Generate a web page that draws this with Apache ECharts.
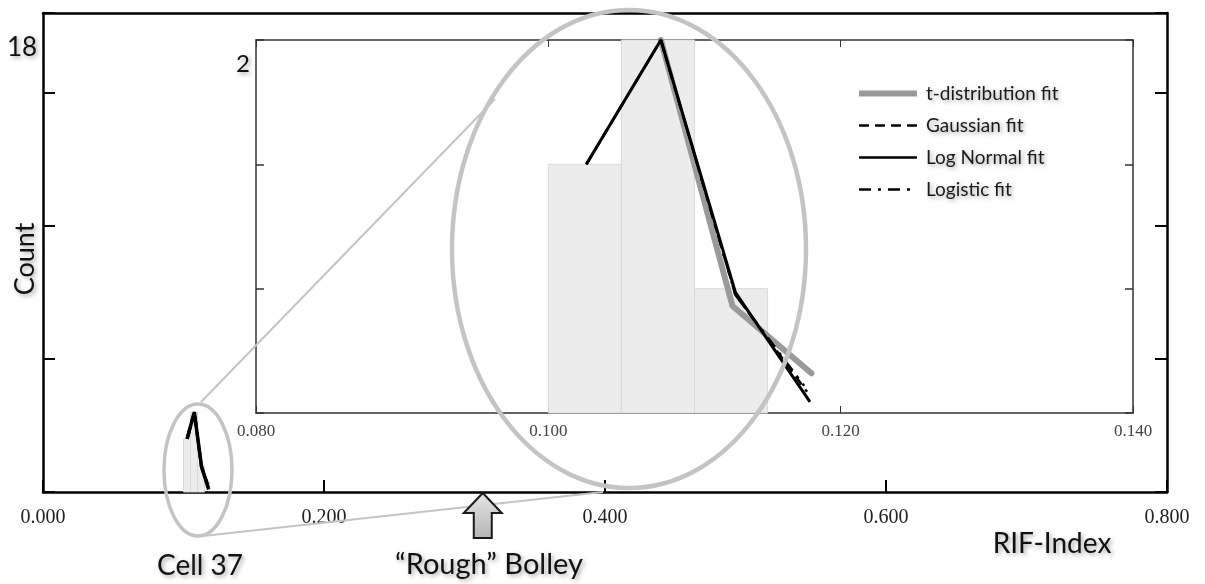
<!DOCTYPE html>
<html>
<head>
<meta charset="utf-8">
<script src="https://cdn.jsdelivr.net/npm/echarts@6/dist/echarts.min.js"></script>
<style>
  html, body { margin: 0; padding: 0; background: #fff; }
  #chart { width: 1205px; height: 584px; }
</style>
</head>
<body>
<div id="chart"></div>
<script>
// Histogram of RIF-Index values: bin starts, bin width and counts
const binStarts = [0.100, 0.105, 0.110];
const binWidth = 0.005;
const counts = [2, 3, 1];

// Fitted distributions, as [RIF-Index, count] points
const tDistFit = [[0.1077, 3], [0.1126, 0.86], [0.1180, 0.32]];
const gaussianFit = [[0.1026, 2], [0.1077, 3], [0.1128, 0.95], [0.1177, 0.17]];
const logNormalFit = [[0.1026, 2], [0.1077, 3], [0.1128, 0.97], [0.1179, 0.09]];
const logisticFit = [[0.1026, 2], [0.1077, 3], [0.1128, 0.95], [0.1175, 0.22]];

// Tick labels of the full-range axis and of the zoomed inset
const mainXTicks = ['0.000', '0.200', '0.400', '0.600', '0.800'];
const insetXTicks = ['0.080', '0.100', '0.120', '0.140'];

// Position of the "Rough" Bolley marker on the RIF-Index axis
const roughBolley = 0.313;

const SANS = 'Lato, "Open Sans", sans-serif';
const SERIF = '"Liberation Serif", "DejaVu Serif", serif';
const shadowText = {
  textShadowColor: 'rgba(0,0,0,0.35)',
  textShadowBlur: 4,
  textShadowOffsetX: 2,
  textShadowOffsetY: 2
};

const histData = binStarts.map((s, i) => [s, s + binWidth, counts[i]]);

function histItem(params, api) {
  const p0 = api.coord([api.value(0), api.value(2)]);
  const p1 = api.coord([api.value(1), 0]);
  return {
    type: 'rect',
    shape: { x: p0[0], y: p0[1], width: p1[0] - p0[0], height: p1[1] - p0[1] },
    style: { fill: '#ececec', stroke: '#d9d9d9', lineWidth: 1 }
  };
}

// Frame lines stay on their own side of the plot (no snapping to zero)
const frame = (w, c) => ({ show: true, onZero: false, lineStyle: { color: c, width: w } });
const ticks = (len, w, c) => ({ show: true, inside: true, length: len, lineStyle: { color: c, width: w } });

// The four fitted curves on a given pair of axes; w = [t-dist, dashed, solid] widths
function fitSeries(xi, yi, w) {
  return [
    {
      name: 't-distribution fit', type: 'line', xAxisIndex: xi, yAxisIndex: yi,
      data: tDistFit, symbol: 'none', z: 4, itemStyle: { color: '#9a9a9a' },
      lineStyle: { color: '#9a9a9a', width: w[0], cap: 'round', join: 'round' }
    },
    {
      name: 'Gaussian fit', type: 'line', xAxisIndex: xi, yAxisIndex: yi,
      data: gaussianFit, symbol: 'none', z: 5, itemStyle: { color: '#000' },
      lineStyle: { color: '#000', width: w[1], type: [10, 6] }
    },
    {
      name: 'Log Normal fit', type: 'line', xAxisIndex: xi, yAxisIndex: yi,
      data: logNormalFit, symbol: 'none', z: 6, itemStyle: { color: '#000' },
      lineStyle: { color: '#000', width: w[2] }
    },
    {
      name: 'Logistic fit', type: 'line', xAxisIndex: xi, yAxisIndex: yi,
      data: logisticFit, symbol: 'none', z: 5, itemStyle: { color: '#000' },
      lineStyle: { color: '#000', width: w[1], type: [12, 7, 3, 7] }
    }
  ];
}

const chart = echarts.init(document.getElementById('chart'), null, { renderer: 'canvas' });

chart.setOption({
  animation: false,
  backgroundColor: '#fff',
  grid: [
    { left: 43, top: 13, width: 1124, height: 479 },
    { left: 256, top: 40, width: 877, height: 373, show: true, backgroundColor: '#fff', borderWidth: 0 }
  ],
  xAxis: [
    {
      gridIndex: 0, type: 'value', position: 'bottom', min: 0, max: 0.8, interval: 0.2,
      axisLine: frame(2.5, '#000'), axisTick: ticks(12, 2, '#000'),
      splitLine: { show: false },
      axisLabel: {
        margin: 16, color: '#222', fontFamily: SERIF, fontSize: 20,
        formatter: (v) => mainXTicks[Math.round(v / 0.2)]
      }
    },
    {
      gridIndex: 0, type: 'value', position: 'top', min: 0, max: 0.8,
      axisLine: frame(2.5, '#000'), axisTick: { show: false },
      axisLabel: { show: false }, splitLine: { show: false }
    },
    {
      gridIndex: 1, type: 'value', position: 'bottom', min: 0.08, max: 0.14, interval: 0.02,
      axisLine: frame(1.5, '#333'), axisTick: ticks(7, 1, '#333'),
      splitLine: { show: false },
      axisLabel: {
        margin: 10, color: '#444', fontFamily: SERIF, fontSize: 17,
        formatter: (v) => insetXTicks[Math.round((v - 0.08) / 0.02)]
      }
    },
    {
      gridIndex: 1, type: 'value', position: 'top', min: 0.08, max: 0.14, interval: 0.02,
      axisLine: frame(1.5, '#333'), axisTick: ticks(7, 1, '#333'),
      axisLabel: { show: false }, splitLine: { show: false }
    }
  ],
  yAxis: [
    {
      gridIndex: 0, type: 'value', position: 'left', min: 0, max: 18, interval: 5,
      axisLine: frame(2.5, '#000'), axisTick: ticks(12, 2, '#000'),
      axisLabel: { show: false }, splitLine: { show: false }
    },
    {
      gridIndex: 0, type: 'value', position: 'right', min: 0, max: 18, interval: 5,
      axisLine: frame(2.5, '#000'), axisTick: ticks(12, 2, '#000'),
      axisLabel: { show: false }, splitLine: { show: false }
    },
    {
      gridIndex: 1, type: 'value', position: 'left', min: 0, max: 3, interval: 1,
      axisLine: frame(1.5, '#333'), axisTick: ticks(8, 1.5, '#333'),
      axisLabel: { show: false }, splitLine: { show: false }
    },
    {
      gridIndex: 1, type: 'value', position: 'right', min: 0, max: 3, interval: 1,
      axisLine: frame(1.5, '#333'), axisTick: ticks(8, 1.5, '#333'),
      axisLabel: { show: false }, splitLine: { show: false }
    }
  ],
  legend: {
    orient: 'vertical', left: 856, top: 84, padding: 0,
    itemWidth: 58, itemHeight: 14, itemGap: 13, selectedMode: false,
    itemStyle: { opacity: 0 },
    data: [
      { name: 't-distribution fit', lineStyle: { width: 6, cap: 'butt' } },
      { name: 'Gaussian fit', lineStyle: { width: 2.5 } },
      { name: 'Log Normal fit', lineStyle: { width: 2.5 } },
      { name: 'Logistic fit', lineStyle: { width: 2.5 } }
    ],
    textStyle: Object.assign({ fontFamily: SANS, fontSize: 19, color: '#1a1a1a', padding: [0, 0, 0, 4] }, shadowText)
  },
  series: [
    // zoomed inset
    {
      name: 'Histogram', type: 'custom', xAxisIndex: 2, yAxisIndex: 2,
      renderItem: histItem, data: histData, encode: { x: [0, 1], y: 2 }, z: 2
    },
    ...fitSeries(2, 2, [6, 2.5, 3]),
    // full-range panel
    {
      name: 'Histogram', type: 'custom', xAxisIndex: 0, yAxisIndex: 0,
      renderItem: histItem, data: histData, encode: { x: [0, 1], y: 2 }, z: 2
    },
    ...fitSeries(0, 0, [2, 3, 3.5])
  ]
});

// Annotations: zoom ellipses, connector lines, marker arrow and labels
const tip = chart.convertToPixel({ xAxisIndex: 0, yAxisIndex: 0 }, [roughBolley, 0]);
const ax = tip[0], ay = tip[1];
const grey = '#c4c4c4';
const label = (text, x, y, size, extra) => Object.assign({
  type: 'text', z: 22, x: x, y: y,
  style: Object.assign({ text: text, font: size + 'px ' + SANS, fill: '#111', align: 'center', verticalAlign: 'middle' }, shadowText)
}, extra || {});

chart.setOption({
  graphic: [
    { type: 'line', z: 20, shape: { x1: 201, y1: 402, x2: 495, y2: 99 }, style: { stroke: grey, lineWidth: 2 } },
    { type: 'line', z: 20, shape: { x1: 203, y1: 536, x2: 603, y2: 492 }, style: { stroke: grey, lineWidth: 2 } },
    { type: 'ellipse', z: 20, shape: { cx: 629, cy: 249, rx: 177, ry: 239 }, style: { fill: null, stroke: grey, lineWidth: 4.5 } },
    { type: 'ellipse', z: 20, shape: { cx: 198, cy: 470, rx: 34, ry: 66 }, style: { fill: null, stroke: grey, lineWidth: 3.5 } },
    {
      type: 'polygon', z: 21,
      shape: { points: [[ax, ay + 1], [ax + 19, ay + 21], [ax + 9, ay + 21], [ax + 9, ay + 46], [ax - 9, ay + 46], [ax - 9, ay + 21], [ax - 19, ay + 21]] },
      style: {
        fill: new echarts.graphic.LinearGradient(0, 0, 0, 1, [{ offset: 0, color: '#e6e6e6' }, { offset: 1, color: '#b4b4b4' }]),
        stroke: '#1a1a1a', lineWidth: 2, lineJoin: 'miter'
      }
    },
    label('18', 22, 48, 26),
    label('2', 243, 64, 24),
    label('Count', 25, 259, 27, { rotation: Math.PI / 2 }),
    label('Cell 37', 200, 566, 28),
    label('\u201CRough\u201D Bolley', 489, 565, 29),
    label('RIF-Index', 1052, 544, 28)
  ]
});
</script>
</body>
</html>
